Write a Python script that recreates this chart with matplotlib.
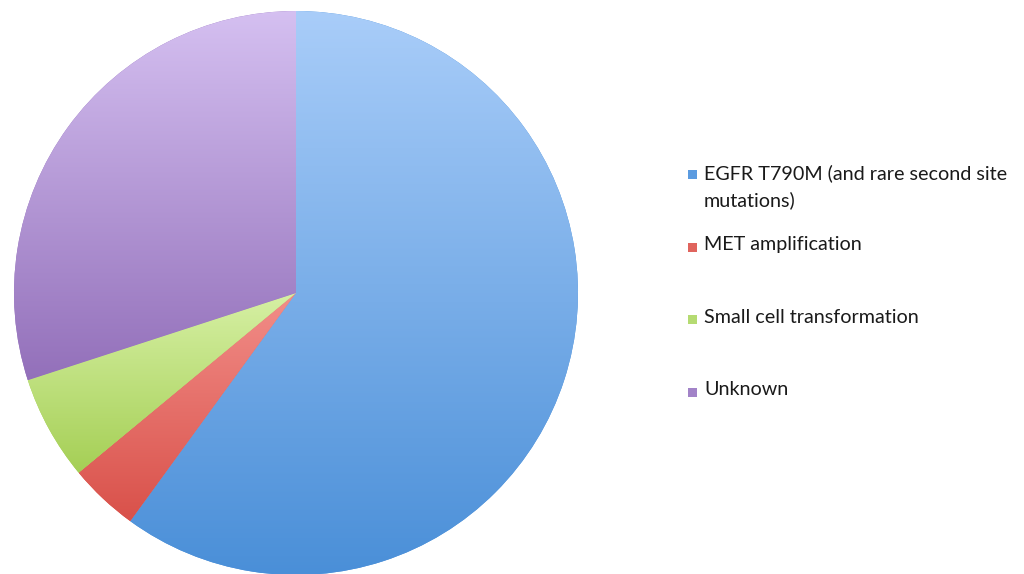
import numpy as np
import matplotlib
matplotlib.use('Agg')
import matplotlib.pyplot as plt
from matplotlib.colors import LinearSegmentedColormap

# Resistance mechanisms (share of cases, %)
labels = ['EGFR T790M (and rare second site\nmutations)', 'MET amplification',
          'Small cell transformation', 'Unknown']
values = [60, 4, 6, 30]
# (top colour, bottom colour) of each slice's vertical gradient
top_colors = ['#a9cdf9', '#f28e89', '#d6f0a4', '#d5c0f1']
bottom_colors = ['#4a8fd8', '#d9514a', '#a5cf55', '#9370ba']
legend_colors = ['#5b9be0', '#e0645d', '#b5db72', '#a283c8']

plt.rcParams['font.family'] = ['Lato', 'DejaVu Sans']

fig = plt.figure(figsize=(10.24, 5.74), dpi=100)
fig.patch.set_facecolor('white')

# Pie centre at (296, 293) px, radius ~282 px
ax = fig.add_axes([(296 - 282) / 1024, (281 - 282) / 574, 564 / 1024, 564 / 574])
ax.set_xlim(-1, 1)
ax.set_ylim(-1, 1)
ax.set_aspect('equal')
ax.axis('off')

wedges, _ = ax.pie(values, startangle=90, counterclock=False, radius=1,
                   wedgeprops=dict(linewidth=0, edgecolor='none'))

for w, c_top, c_bot in zip(wedges, top_colors, bottom_colors):
    bb = w.get_path().get_extents(w.get_patch_transform())
    cmap = LinearSegmentedColormap.from_list('g', [c_bot, c_top])
    grad = np.linspace(0, 1, 256).reshape(-1, 1)
    im = ax.imshow(grad, cmap=cmap, origin='lower', aspect='auto',
                   extent=[bb.x0, bb.x1, bb.y0, bb.y1], interpolation='bilinear',
                   zorder=2)
    im.set_clip_path(w)
    w.set_facecolor(c_bot)

ax.set_xlim(-1, 1)
ax.set_ylim(-1, 1)

# Legend, one slot every 72 px
x_mark, x_text = 688 / 1024, 704 / 1024
y0 = 1 - 176 / 574
step = 72.5 / 574
for i, (lab, col) in enumerate(zip(labels, legend_colors)):
    y = y0 - i * step
    fig.patches.append(plt.Rectangle((x_mark, y - 3.5 / 574), 9 / 1024, 9 / 574,
                                     transform=fig.transFigure, facecolor=col,
                                     edgecolor='none'))
    fig.text(x_text, y + 12 / 574, lab, fontsize=14.2, color='#1a1a1a',
             va='top', ha='left', linespacing=1.63)

fig.savefig('out.png', dpi=100)
